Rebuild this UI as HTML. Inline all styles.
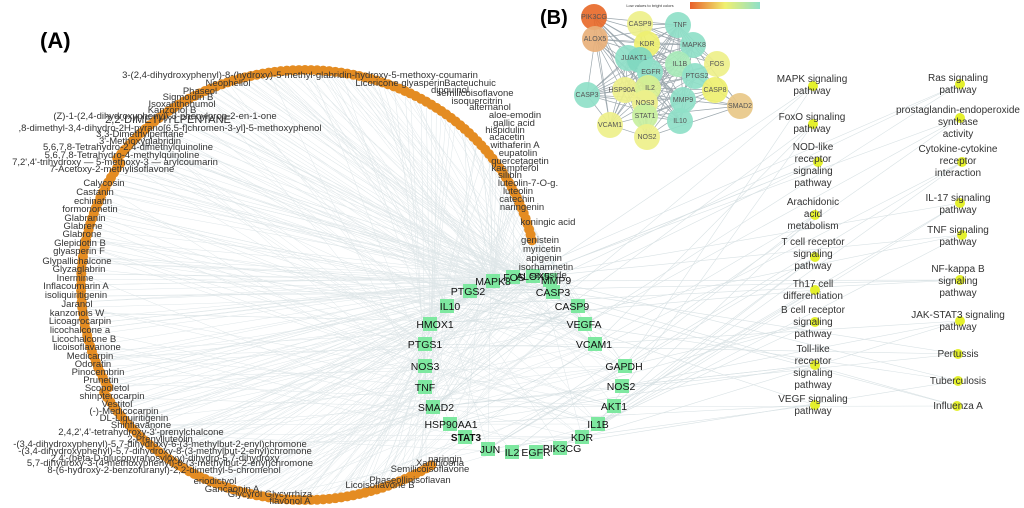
<!DOCTYPE html>
<html><head><meta charset="utf-8"><style>
html,body{margin:0;padding:0;background:#fff;}
svg{display:block;font-family:"Liberation Sans",sans-serif;}
.l{font-size:9.5px;fill:#333;text-anchor:middle;}
.g{font-size:10.5px;fill:#111;text-anchor:middle;}
.p{font-size:10px;fill:#333;text-anchor:middle;}
.b{font-size:7px;fill:#555;text-anchor:middle;}
</style></head><body>
<svg id="s" width="1024" height="508" viewBox="0 0 1024 508">
<g id="lines" stroke="#c4d2d6" stroke-width="0.5" opacity="0.55"></g>
<g id="plines" stroke="#c4d2d6" stroke-width="0.6" opacity="0.65"></g>
<g id="onodes" fill="#e48c22"></g>
<g id="gnodes" fill="#7ee8a0"></g>
<g id="pdots" fill="#e4f02c"></g>
<text x="40" y="48" font-size="22" font-weight="bold" fill="#000">(A)</text>
<text x="540" y="24" font-size="20" font-weight="bold" fill="#000">(B)</text>
<g class="l">
<text x="300" y="78">3-(2,4-dihydroxyphenyl)-8-(hydroxy)-5-methyl-glabridin-hydroxy-5-methoxy-coumarin</text>
<text x="228" y="86">Neophellol</text>
<text x="200" y="94">Phaseol</text>
<text x="188" y="100">Sigmoidin B</text>
<text x="182" y="107">Isoxanthohumol</text>
<text x="172" y="113">Kanzonol B</text>
<text x="165" y="119">(Z)-1-(2,4-dihydroxyphenyl)-3-phenylprop-2-en-1-one</text>
<text x="168" y="123" font-size="11">2,2-DIMETHYLPENTANE</text>
<text x="170" y="131">,8-dimethyl-3,4-dihydro-2H-pyrano[6,5-f]chromen-3-yl]-5-methoxyphenol</text>
<text x="140" y="137">3,3-Dimethylpentane</text>
<text x="140" y="144">3'-Methoxyglabridin</text>
<text x="128" y="150">5,6,7,8-Tetrahydro-2,4-dimethylquinoline</text>
<text x="122" y="158">5,6,7,8-Tetrahydro-4-methylquinoline</text>
<text x="115" y="165">7,2',4'-trihydroxy — 5-methoxy-3 — arylcoumarin</text>
<text x="112" y="172">7-Acetoxy-2-methylisoflavone</text>
<text x="104" y="186">Calycosin</text>
<text x="95" y="195">Castanin</text>
<text x="93" y="204">echinatin</text>
<text x="90" y="212">formononetin</text>
<text x="85" y="221">Glabranin</text>
<text x="83" y="229">Glabrene</text>
<text x="82" y="237">Glabrone</text>
<text x="80" y="246">Glepidotin B</text>
<text x="79" y="254">glyasperin F</text>
<text x="77" y="264">Glypallichalcone</text>
<text x="79" y="272">Glyzaglabrin</text>
<text x="75" y="281">Inermine</text>
<text x="76" y="289">Inflacoumarin A</text>
<text x="76" y="298">isoliquiritigenin</text>
<text x="77" y="307">Jaranol</text>
<text x="77" y="316">kanzonols W</text>
<text x="80" y="324">Licoagrocarpin</text>
<text x="80" y="333">licochalcone a</text>
<text x="84" y="342">Licochalcone B</text>
<text x="87" y="350">licoisoflavanone</text>
<text x="90" y="359">Medicarpin</text>
<text x="93" y="367">Odoratin</text>
<text x="98" y="375">Pinocembrin</text>
<text x="101" y="383">Prunetin</text>
<text x="107" y="391">Scopoletol</text>
<text x="112" y="399">shinpterocarpin</text>
<text x="117" y="407">Vestitol</text>
<text x="124" y="414">(-)-Medicocarpin</text>
<text x="134" y="421">DL-Liquiritigenin</text>
<text x="141" y="428">Shinflavanone</text>
<text x="141" y="435">2,4,2',4'-tetrahydroxy-3'-prenylchalcone</text>
<text x="160" y="442">2-Prenylluteolin</text>
<text x="160" y="447">-(3,4-dihydroxyphenyl)-5,7-dihydroxy-6-(3-methylbut-2-enyl)chromone</text>
<text x="165" y="454">-(3,4-dihydroxyphenyl)-5,7-dihydroxy-8-(3-methylbut-2-enyl)chromone</text>
<text x="165" y="461">2,4'-(beta-D-glucopyranosyloxy)-dihydro-5,7-dihydroxy</text>
<text x="170" y="466">5,7-dihydroxy-3-(4-methoxyphenyl)-8-(3-methylbut-2-enyl)chromone</text>
<text x="164" y="473">8-(6-hydroxy-2-benzofuranyl)-2,2-dimethyl-5-chromenol</text>
<text x="215" y="484">eriodictyol</text>
<text x="232" y="492">Gancaonin A</text>
<text x="270" y="497">Glycyrol Glycyrrhiza</text>
<text x="290" y="504">flavonol A</text>
<text x="380" y="488">Licoisoflavone B</text>
<text x="410" y="483">Phaseollinisoflavan</text>
<text x="430" y="472">Semilicoisoflavone</text>
<text x="440" y="466">Xambioona</text>
<text x="445" y="462">naringin</text>
<text x="400" y="86">Licoricone glyasperin</text>
<text x="470" y="86">Bacteuchuic</text>
<text x="450" y="93">dipquinol</text>
<text x="475" y="96">semilicoisoflavone</text>
<text x="477" y="104">isoquercitrin</text>
<text x="490" y="110">alternanol</text>
<text x="515" y="118">aloe-emodin</text>
<text x="514" y="126">gallic acid</text>
<text x="505" y="133">hispidulin</text>
<text x="507" y="140">acacetin</text>
<text x="515" y="148">withaferin A</text>
<text x="518" y="156">eupatolin</text>
<text x="520" y="164">quercetagetin</text>
<text x="515" y="171">kaempferol</text>
<text x="510" y="178">silibin</text>
<text x="528" y="186">luteolin-7-O-g.</text>
<text x="518" y="194">luteolin</text>
<text x="517" y="202">catechin</text>
<text x="522" y="210">naringenin</text>
<text x="548" y="225">koningic acid</text>
<text x="540" y="243">genistein</text>
<text x="542" y="252">myricetin</text>
<text x="544" y="261">apigenin</text>
<text x="546" y="270">isorhamnetin</text>
<text x="548" y="278">saxoside</text>
</g>
<g class="g">
<text x="493" y="285">MAPK8</text><text x="514" y="281">FOS</text><text x="533" y="280">ALOX5</text><text x="556" y="284">MMP9</text>
<text x="468" y="295">PTGS2</text><text x="450" y="310">IL10</text><text x="553" y="296">CASP3</text><text x="572" y="310">CASP9</text>
<text x="435" y="328">HMOX1</text><text x="584" y="328">VEGFA</text><text x="425" y="348">PTGS1</text><text x="594" y="348">VCAM1</text>
<text x="425" y="370">NOS3</text><text x="624" y="370">GAPDH</text><text x="425" y="391">TNF</text><text x="621" y="390">NOS2</text>
<text x="436" y="411">SMAD2</text><text x="614" y="410">AKT1</text><text x="451" y="428">HSP90AA1</text><text x="598" y="428">IL1B</text>
<text x="466" y="441" font-weight="bold" font-size="10">STAT3</text><text x="582" y="441">KDR</text><text x="490" y="453">JUN</text><text x="562" y="452">PIK3CG</text>
<text x="512" y="456">IL2</text><text x="536" y="456">EGFR</text>
</g>
<g class="p">
<text x="812" y="82">MAPK signaling</text><text x="812" y="94">pathway</text>
<text x="812" y="120">FoxO signaling</text><text x="812" y="132">pathway</text>
<text x="813" y="150">NOD-like</text><text x="813" y="162">receptor</text><text x="813" y="174">signaling</text><text x="813" y="186">pathway</text>
<text x="813" y="205">Arachidonic</text><text x="813" y="217">acid</text><text x="813" y="229">metabolism</text>
<text x="813" y="245">T cell receptor</text><text x="813" y="257">signaling</text><text x="813" y="269">pathway</text>
<text x="813" y="287">Th17 cell</text><text x="813" y="299">differentiation</text>
<text x="813" y="313">B cell receptor</text><text x="813" y="325">signaling</text><text x="813" y="337">pathway</text>
<text x="813" y="352">Toll-like</text><text x="813" y="364">receptor</text><text x="813" y="376">signaling</text><text x="813" y="388">pathway</text>
<text x="813" y="402">VEGF signaling</text><text x="813" y="414">pathway</text>
<text x="958" y="81">Ras signaling</text><text x="958" y="93">pathway</text>
<text x="958" y="113">prostaglandin-endoperoxide</text><text x="958" y="125">synthase</text><text x="958" y="137">activity</text>
<text x="958" y="152">Cytokine-cytokine</text><text x="958" y="164">receptor</text><text x="958" y="176">interaction</text>
<text x="958" y="201">IL-17 signaling</text><text x="958" y="213">pathway</text>
<text x="958" y="233">TNF signaling</text><text x="958" y="245">pathway</text>
<text x="958" y="272">NF-kappa B</text><text x="958" y="284">signaling</text><text x="958" y="296">pathway</text>
<text x="958" y="318">JAK-STAT3 signaling</text><text x="958" y="330">pathway</text>
<text x="958" y="357">Pertussis</text>
<text x="958" y="384">Tuberculosis</text>
<text x="958" y="409">Influenza A</text>
</g>
<g id="bl" stroke="#4a5f6a" stroke-width="0.7" opacity="0.55"></g>
<g id="bn"></g>
<defs><linearGradient id="gr"><stop offset="0" stop-color="#e8602a"/><stop offset="0.5" stop-color="#f0f070"/><stop offset="1" stop-color="#8fe0c8"/></linearGradient></defs>
<rect x="690" y="2" width="70" height="7" fill="url(#gr)"/>
<text x="650" y="7" font-size="4" fill="#333" text-anchor="middle">Low values to bright colors</text>
<g class="b" id="bt">
<text x="594" y="19">PIK3CG</text><text x="640" y="26">CASP9</text><text x="680" y="27">TNF</text><text x="595" y="41">ALOX5</text>
<text x="647" y="46">KDR</text><text x="694" y="47">MAPK8</text><text x="634" y="60">JUAKT1</text><text x="680" y="66">IL1B</text>
<text x="717" y="66">FOS</text><text x="651" y="74">EGFR</text><text x="697" y="78">PTGS2</text><text x="587" y="97">CASP3</text>
<text x="622" y="92">HSP90A</text><text x="650" y="90">IL2</text><text x="715" y="92">CASP8</text><text x="683" y="102">MMP9</text>
<text x="740" y="108">SMAD2</text><text x="645" y="105">NOS3</text><text x="645" y="118">STAT1</text><text x="680" y="123">IL10</text>
<text x="610" y="127">VCAM1</text><text x="647" y="139">NOS2</text>
</g>
</svg>
<script>
var NS="http://www.w3.org/2000/svg";
function el(p,t,a){var e=document.createElementNS(NS,t);for(var k in a)e.setAttribute(k,a[k]);var par=document.getElementById(p);if(p=="bn"){par.appendChild(e);}else par.appendChild(e);return e;}
var seed=7;function r(){seed=(seed*16807)%2147483647;return seed/2147483647;}
var G=[[493,281],[513,277],[533,276],[550,280],[470,291],[447,306],[553,292],[578,306],[430,324],[585,324],[425,344],[595,344],[425,366],[625,366],[425,387],[622,386],[433,407],[614,406],[450,424],[598,424],[465,437],[582,437],[488,449],[560,448],[512,452],[536,452]];
var O=[];
for(var a=57;a<=348;a+=1.5){var t=a*Math.PI/180;var x=305+232*Math.cos(t),y=285+215*Math.sin(t);
 if(a>150&&a<215){x=305+224*Math.cos(t);} O.push([x,y]);}
O.forEach(function(p){var n=1+Math.floor(r()*3);for(var i=0;i<n;i++){var g=G[Math.floor(r()*r()*G.length)];el("lines","line",{x1:p[0],y1:p[1],x2:g[0],y2:g[1]});}});
O.forEach(function(p){el("onodes","circle",{cx:p[0],cy:p[1],r:5});});
G.forEach(function(g){el("gnodes","rect",{x:g[0]-7,y:g[1]-7,width:14,height:14});});
var P=[[813,86],[813,124],[818,162],[815,215],[815,257],[815,290],[815,322],[815,365],[815,405],[960,84],[960,118],[962,162],[960,203],[962,235],[960,280],[960,321],[958,354],[958,381],[957,406]];
P.forEach(function(p){for(var i=0;i<3;i++){var g=G[Math.floor(r()*G.length)];el("plines","line",{x1:g[0],y1:g[1],x2:p[0],y2:p[1]});}});
P.forEach(function(p){el("pdots","circle",{cx:p[0],cy:p[1],r:5});});
var B=[[594,17,"#e86a2a"],[640,24,"#eef08a"],[678,25,"#8fe0c8"],[595,39,"#e8b07a"],[647,44,"#eef070"],[693,45,"#8fe0c8"],[628,58,"#8fe0c8"],[640,60,"#80d8c0"],[678,64,"#a8eab8"],[717,64,"#eef08a"],[650,72,"#8fe0c8"],[695,76,"#8fe0c8"],[587,95,"#8fe0c8"],[625,90,"#eef08a"],[648,88,"#d8f090"],[715,90,"#eef070"],[683,100,"#8fe0c8"],[740,106,"#e8c888"],[645,103,"#eef08a"],[645,116,"#c8f0a0"],[680,121,"#8fe0c8"],[610,125,"#eef08a"],[647,137,"#eef08a"]];
for(var i=0;i<B.length;i++)for(var j=i+1;j<B.length;j++){if(r()<0.55)el("bl","line",{x1:B[i][0],y1:B[i][1],x2:B[j][0],y2:B[j][1]});}
B.forEach(function(b){el("bn","circle",{cx:b[0],cy:b[1],r:13,fill:b[2],opacity:0.92});});
</script>
</body></html>
